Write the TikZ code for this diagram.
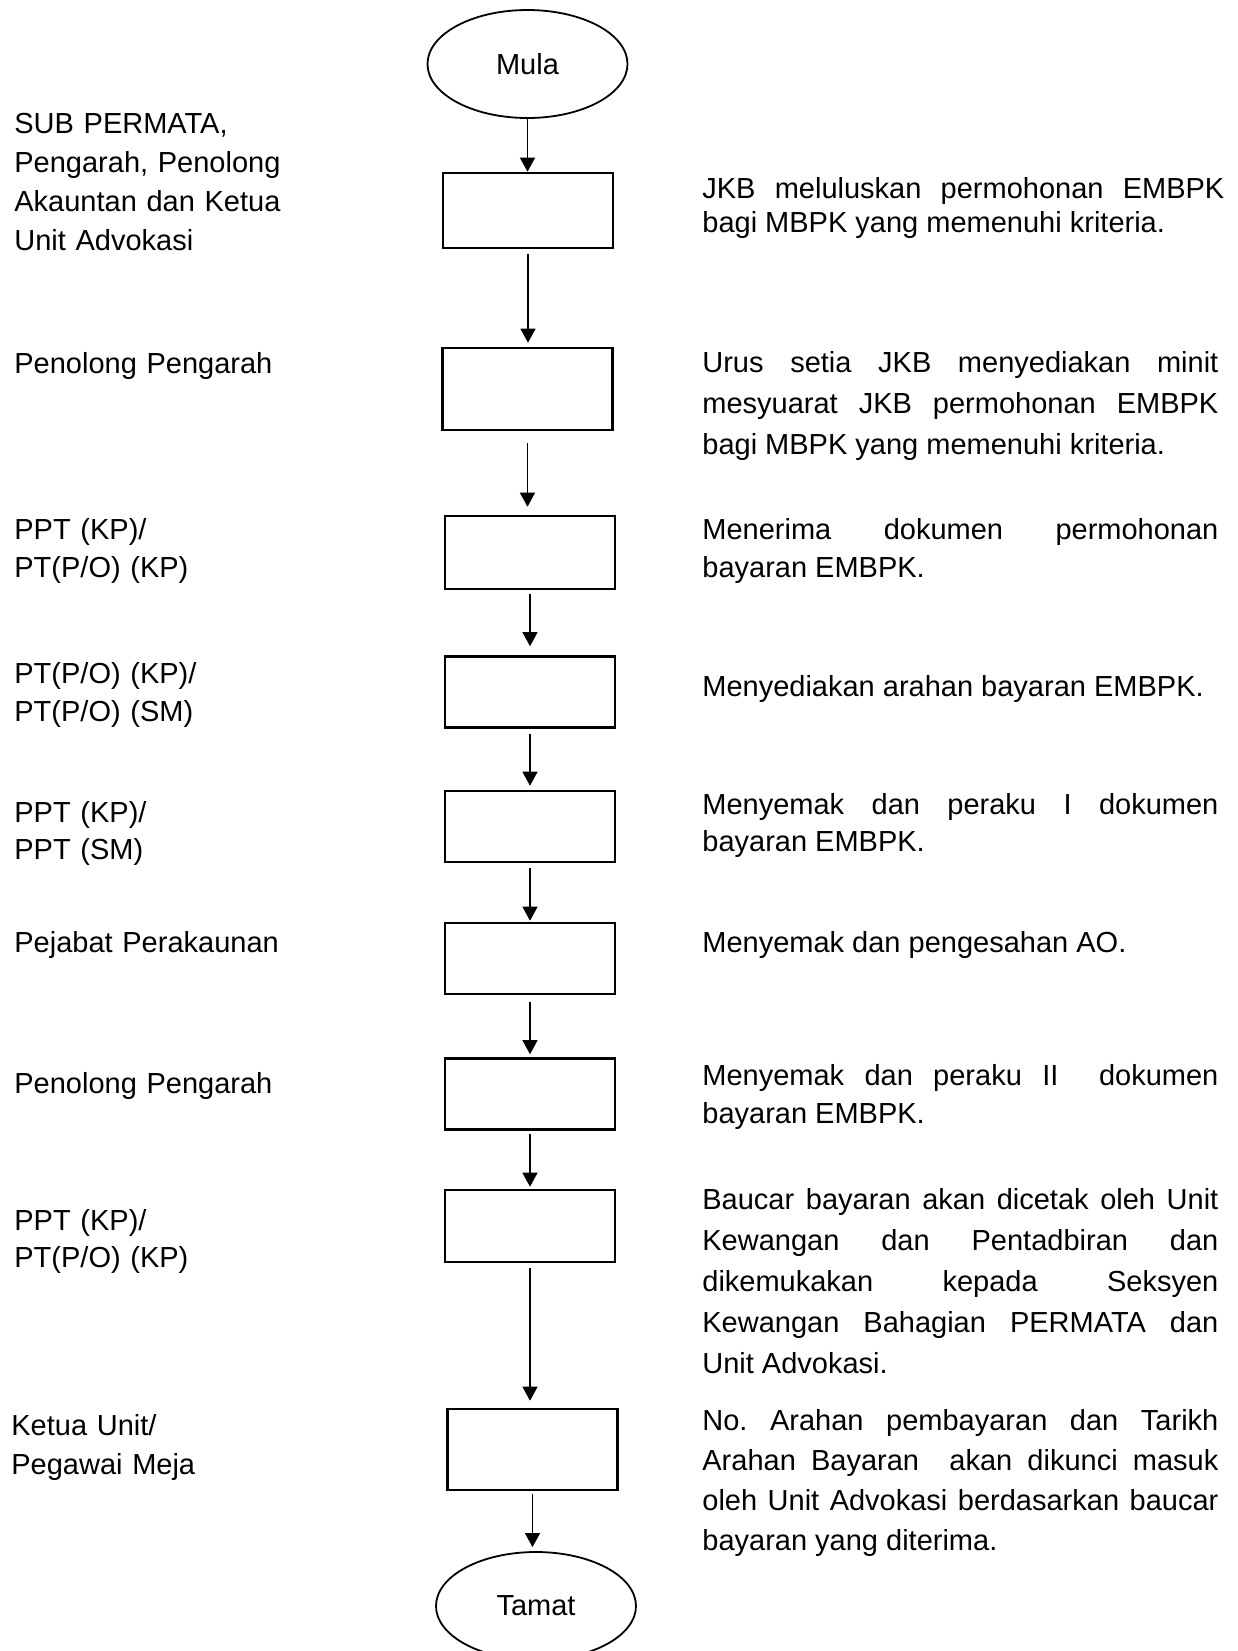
\documentclass[tikz,border=0pt]{standalone}
\usepackage{fontspec}
\setmainfont{Liberation Sans}
\frenchspacing
\usetikzlibrary{shapes.geometric,arrows.meta}

\begin{document}
\begin{tikzpicture}[
    x=0.5pt, y=-0.5pt,
    terminal/.style={ellipse, draw, line width=0.9pt, minimum width=100pt, minimum height=54pt, inner sep=0pt, font=\fontsize{14.5}{17}\selectfont},
    process/.style={rectangle, draw, line width=1.3pt, minimum width=85pt, minimum height=#1, inner sep=0pt},
    process/.default=35.5pt,
    flow/.style={-{Triangle[length=7pt, width=7.5pt]}, line width=0.6pt, shorten <=2.5pt, shorten >=2pt},
    actor/.style={anchor=base west, text width=150pt, align=left, inner sep=0pt, font=\fontsize{14.5}{#1}\selectfont},
    actor/.default=19pt,
    duty/.style={anchor=base west, text width=258pt, align=justify, inner sep=0pt, font=\fontsize{14.5}{#1}\selectfont},
    duty/.default=19pt
]

\useasboundingbox (0,0) rectangle (1238,1651);

% Start / end
\node[terminal] (mula) at (527.5,64) {Mula};
\node[terminal] (tamat) at (536,1606) {Tamat};

% Process boxes
\node[process=37.5pt] (b1) at (528,210.5) {};
\node[process=41pt] (b2) at (527.5,389) {};
\node[process=36.5pt] (b3) at (530,552.5) {};
\node[process] (b4) at (530,692) {};
\node[process] (b5) at (530,826.5) {};
\node[process] (b6) at (530,958.5) {};
\node[process] (b7) at (530,1094) {};
\node[process=36pt] (b8) at (530,1226) {};
\node[process=40.5pt] (b9) at (532.5,1449.5) {};

% Flow arrows
\draw[flow, shorten <=0pt, shorten >=0pt] (mula.south) -- (mula.south |- b1.north);
\draw[flow] (b1.south) -- (b1.south |- b2.north);
\draw[flow, shorten <=6pt, shorten >=4pt] (b2.south) -- (b2.south |- b3.north);
\draw[flow, shorten <=2pt, shorten >=4.5pt] (b3.south) -- (b3.south |- b4.north);
\draw[flow] (b4.south) -- (b4.south |- b5.north);
\draw[flow, shorten >=0.5pt] (b5.south) -- (b5.south |- b6.north);
\draw[flow, shorten <=3.5pt, shorten >=1.5pt] (b6.south) -- (b6.south |- b7.north);
\draw[flow, shorten <=1.5pt, shorten >=1pt] (b7.south) -- (b7.south |- b8.north);
\draw[flow, shorten >=3.5pt] (b8.south) -- (b8.south |- b9.north);
\draw[flow, shorten <=1.5pt] (b9.south) -- (b9.south |- tamat.north);

% Left column: who does it
\node[actor=19.5pt] (a1) at (14,133) {SUB PERMATA,\\ Pengarah, Penolong\\ Akauntan dan Ketua\\ Unit Advokasi};
\node[actor] (a2) at (14,373) {Penolong Pengarah};
\node[actor] (a3) at (14,539) {PPT (KP)/\\ PT(P/O) (KP)};
\node[actor] (a4) at (14,683) {PT(P/O) (KP)/\\ PT(P/O) (SM)};
\node[actor=18.5pt] (a5) at (14,822) {PPT (KP)/\\ PPT (SM)};
\node[actor] (a6) at (14,952) {Pejabat Perakaunan};
\node[actor] (a7) at (14,1093) {Penolong Pengarah};
\node[actor=18.5pt] (a8) at (14,1230) {PPT (KP)/\\ PT(P/O) (KP)};
\node[actor=19.5pt] (a9) at (11,1435) {Ketua Unit/\\ Pegawai Meja};

% Right column: what is done
\node[duty=17pt, text width=261pt] (d1) at (702,198) {JKB meluluskan permohonan EMBPK\linebreak bagi MBPK yang memenuhi kriteria.};
\node[duty=20.5pt] (d2) at (702,372) {Urus setia JKB menyediakan minit\linebreak mesyuarat JKB permohonan EMBPK\linebreak bagi MBPK yang memenuhi kriteria.};
\node[duty] (d3) at (702,539) {Menerima dokumen permohonan\linebreak bayaran EMBPK.};
\node[duty] (d4) at (702,696) {Menyediakan arahan bayaran EMBPK.};
\node[duty=18.5pt] (d5) at (702,814) {Menyemak dan peraku I dokumen\linebreak bayaran EMBPK.};
\node[duty] (d6) at (702,952) {Menyemak dan pengesahan AO.};
\node[duty] (d7) at (702,1085) {Menyemak dan peraku II\ \ dokumen\linebreak bayaran EMBPK.};
\node[duty=20.5pt] (d8) at (702,1209) {Baucar bayaran akan dicetak oleh Unit\linebreak Kewangan dan Pentadbiran dan\linebreak dikemukakan kepada Seksyen\linebreak Kewangan Bahagian PERMATA dan\linebreak Unit Advokasi.};
\node[duty=20pt] (d9) at (702,1430) {No. Arahan pembayaran dan Tarikh\linebreak Arahan Bayaran\ \ akan dikunci masuk\linebreak oleh Unit Advokasi berdasarkan baucar\linebreak bayaran yang diterima.};

\end{tikzpicture}
\end{document}
